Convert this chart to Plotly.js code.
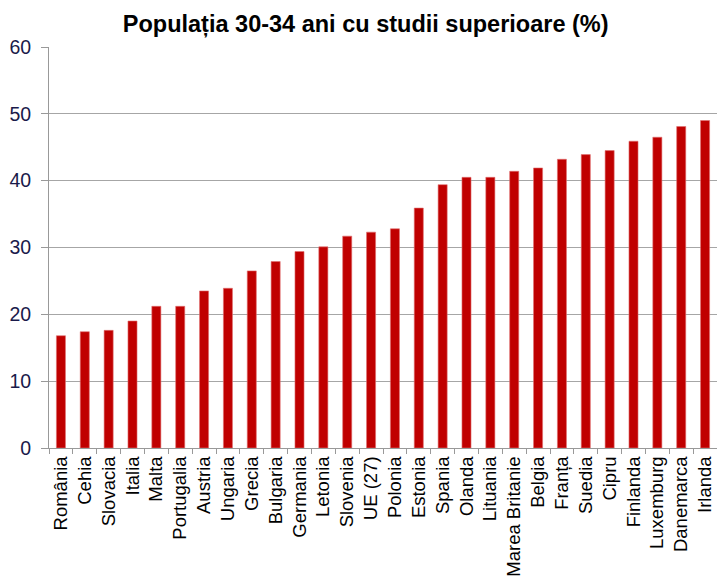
<!DOCTYPE html>
<html>
<head>
<meta charset="utf-8">
<script src="https://cdn.plot.ly/plotly-3.0.1.min.js"></script>
<style>html,body{margin:0;padding:0;background:#fff;}#chart{width:717px;height:583px;}</style>
</head>
<body>
<div id="chart"></div>
<script>
const countries = ["România","Cehia","Slovacia","Italia","Malta","Portugalia","Austria","Ungaria","Grecia","Bulgaria","Germania","Letonia","Slovenia","UE (27)","Polonia","Estonia","Spania","Olanda","Lituania","Marea Britanie","Belgia","Franța","Suedia","Cipru","Finlanda","Luxemburg","Danemarca","Irlanda"];
const values = [16.8,17.4,17.6,19.0,21.2,21.2,23.5,23.9,26.5,27.9,29.4,30.1,31.7,32.3,32.8,35.9,39.4,40.5,40.5,41.4,41.9,43.2,43.9,44.5,45.9,46.5,48.1,49.0];
const yTicks = [0,10,20,30,40,50,60];
const chartTitle = "Populația 30-34 ani cu studii superioare (%)";

Plotly.newPlot("chart", [{
  type: "bar",
  x: countries,
  y: values,
  width: 0.38,
  marker: {color: "#C00000", line: {color: "#E07070", width: 0.6}},
  hoverinfo: "x+y"
}], {
  width: 717, height: 583,
  margin: {l: 49, r: 0, t: 47, b: 135, pad: 0},
  paper_bgcolor: "#fff", plot_bgcolor: "#fff",
  showlegend: false,
  title: {text: chartTitle, x: 0.51, xanchor: "center", y: 0.959, yanchor: "middle",
          font: {family: "Liberation Sans, Arial, sans-serif", size: 23.5, color: "#000", weight: "bold"}},
  font: {family: "Liberation Sans, Arial, sans-serif", color: "#000"},
  xaxis: {
    type: "category", tickangle: -90, tickson: "boundaries",
    ticks: "outside", ticklen: 5, tickcolor: "#999", showgrid: false,
    showline: true, linecolor: "#999", linewidth: 1,
    tickfont: {size: 18.5, color: "#000"}, automargin: false
  },
  yaxis: {
    range: [0, 60], tickvals: yTicks, ticktext: yTicks.map(String),
    ticks: "outside", ticklen: 7, tickcolor: "#999", ticklabelstandoff: 6,
    showgrid: true, gridcolor: "#a6a6a6", gridwidth: 1.3,
    showline: true, linecolor: "#999", linewidth: 1, zeroline: false,
    tickfont: {size: 19.5, color: "#1a1a4a"}, automargin: false
  }
}, {displayModeBar: false, staticPlot: true});
</script>
</body>
</html>
